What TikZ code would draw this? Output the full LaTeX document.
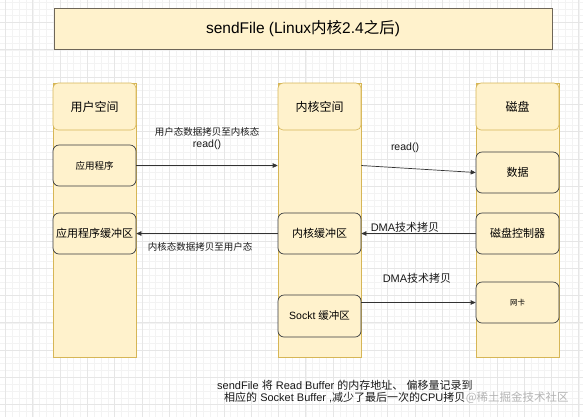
\documentclass[tikz,border=0pt]{standalone}
\usepackage{fontspec}
\setmainfont{Noto Sans CJK SC}
\newfontfamily\lat{Liberation Sans}
\newcommand{\lt}[1]{{\lat #1}}
\usetikzlibrary{arrows.meta}
\definecolor{fillY}{HTML}{FFF2CC}
\definecolor{colB}{HTML}{D6B656}
\definecolor{boxB}{HTML}{36393D}
\definecolor{titleB}{HTML}{6E6658}
\definecolor{gridmaj}{HTML}{E6E6E6}
\definecolor{gridmin}{HTML}{F3F3F3}
\definecolor{arr}{HTML}{333333}
\definecolor{wm}{HTML}{B4B4B4}
\tikzset{
  colrect/.style={draw=colB, fill=fillY, line width=0.6bp, minimum width=83bp, minimum height=274bp, inner sep=0},
  header/.style={draw=colB, fill=fillY, line width=0.6bp, rounded corners=5bp, minimum width=83bp, minimum height=47bp, inner sep=0, font=\fontsize{12bp}{14bp}\selectfont},
  box/.style={draw=boxB, fill=fillY, line width=0.7bp, rounded corners=6bp, minimum width=83bp, minimum height=41bp, inner sep=0},
  conn/.style={draw=arr, line width=0.7bp, -{Triangle[length=5bp,width=4.5bp]}},
  lbl/.style={inner sep=0, text=black!90},
}
\begin{document}
\begin{tikzpicture}[x=1bp,y=-1bp]
\useasboundingbox (0,0) rectangle (583,417);
% grid
\foreach \i in {0,...,90} {
  \draw[gridmin, line width=0.4bp] ({-1.4+6.825*\i},0) -- ({-1.4+6.825*\i},417);
}
\foreach \i in {0,...,64} {
  \draw[gridmin, line width=0.4bp] (0,{1.925+6.825*\i}) -- (583,{1.925+6.825*\i});
}
\foreach \i in {0,...,21} {
  \draw[gridmaj, line width=0.5bp] ({5.4+27.3*\i},0) -- ({5.4+27.3*\i},417);
}
\foreach \i in {-1,...,15} {
  \draw[gridmaj, line width=0.5bp] (0,{22.4+27.3*\i}) -- (583,{22.4+27.3*\i});
}
% title
\node[draw=titleB, fill=fillY, line width=0.8bp, minimum width=498bp, minimum height=41bp, inner sep=0,
  font=\fontsize{15.5bp}{18bp}\selectfont] (title) at (303,28.5) {\lt{sendFile (Linux}内核\lt{2.4}之后\lt{)}};
% columns
\node[colrect] (ucol) at (94.5,220) {};
\node[colrect] (kcol) at (319.5,220) {};
\node[colrect] (dcol) at (517.5,220) {};
\node[header] (uhead) at (94.5,106.5) {用户空间};
\node[header] (khead) at (319.5,106.5) {内核空间};
\node[header] (dhead) at (517.5,106.5) {磁盘};
% boxes
\node[box, font=\fontsize{9.5bp}{11bp}\selectfont] (app) at (94.5,165.5) {应用程序};
\node[box, font=\fontsize{11bp}{13bp}\selectfont] (appbuf) at (94.5,233.5) {应用程序缓冲区};
\node[box, font=\fontsize{11bp}{13bp}\selectfont] (kbuf) at (319.5,233.5) {内核缓冲区};
\node[box, minimum height=42bp, font=\fontsize{10.5bp}{12bp}\selectfont] (sock) at (319.5,316) {\lt{Sockt }缓冲区};
\node[box, font=\fontsize{11bp}{13bp}\selectfont] (data) at (517.5,172.5) {数据};
\node[box, font=\fontsize{11bp}{13bp}\selectfont] (ctrl) at (517.5,233.5) {磁盘控制器};
\node[box, font=\fontsize{7.5bp}{9bp}\selectfont] (nic) at (517.5,302.5) {网卡};
% connectors
\draw[conn] (app.east) -- (app.east -| kcol.west);
\draw[conn] (kcol.east |- app.east) -- (data.west);
\draw[conn] (kbuf.west) -- (appbuf.east);
\draw[conn] (ctrl.west) -- (kbuf.west -| kbuf.east);
\draw[conn] (sock.east |- nic.west) -- (nic.west);
% labels
\node[lbl, font=\fontsize{9.5bp}{11bp}\selectfont] (l1) at (207,132) {用户态数据拷贝至内核态};
\node[lbl, font=\fontsize{10.5bp}{12bp}\selectfont] (l2) at (207,145) {\lt{read()}};
\node[lbl, font=\fontsize{10.5bp}{12bp}\selectfont] (l3) at (405,148) {\lt{read()}};
\node[lbl, font=\fontsize{9.5bp}{11bp}\selectfont] (l4) at (200,247) {内核态数据拷贝至用户态};
\node[lbl, font=\fontsize{11bp}{13bp}\selectfont] (l5) at (405,227) {\lt{DMA}技术拷贝};
\node[lbl, font=\fontsize{11bp}{13bp}\selectfont] (l6) at (417,278) {\lt{DMA}技术拷贝};
% bottom note
\node[lbl, anchor=west, font=\fontsize{11bp}{13bp}\selectfont] (n1) at (217,385) {\lt{sendFile }将\lt{ Read Buffer }的内存地址、\lt{ }偏移量记录到};
\node[lbl, anchor=west, font=\fontsize{11bp}{13bp}\selectfont] (n2) at (224,397.5) {相应的\lt{ Socket Buffer ,}减少了最后一次的\lt{CPU}拷贝};
\node[inner sep=0, anchor=west, text=wm, font=\fontsize{11.5bp}{13bp}\selectfont] (wmk) at (n2.east) {@稀土掘金技术社区};
\end{tikzpicture}
\end{document}
